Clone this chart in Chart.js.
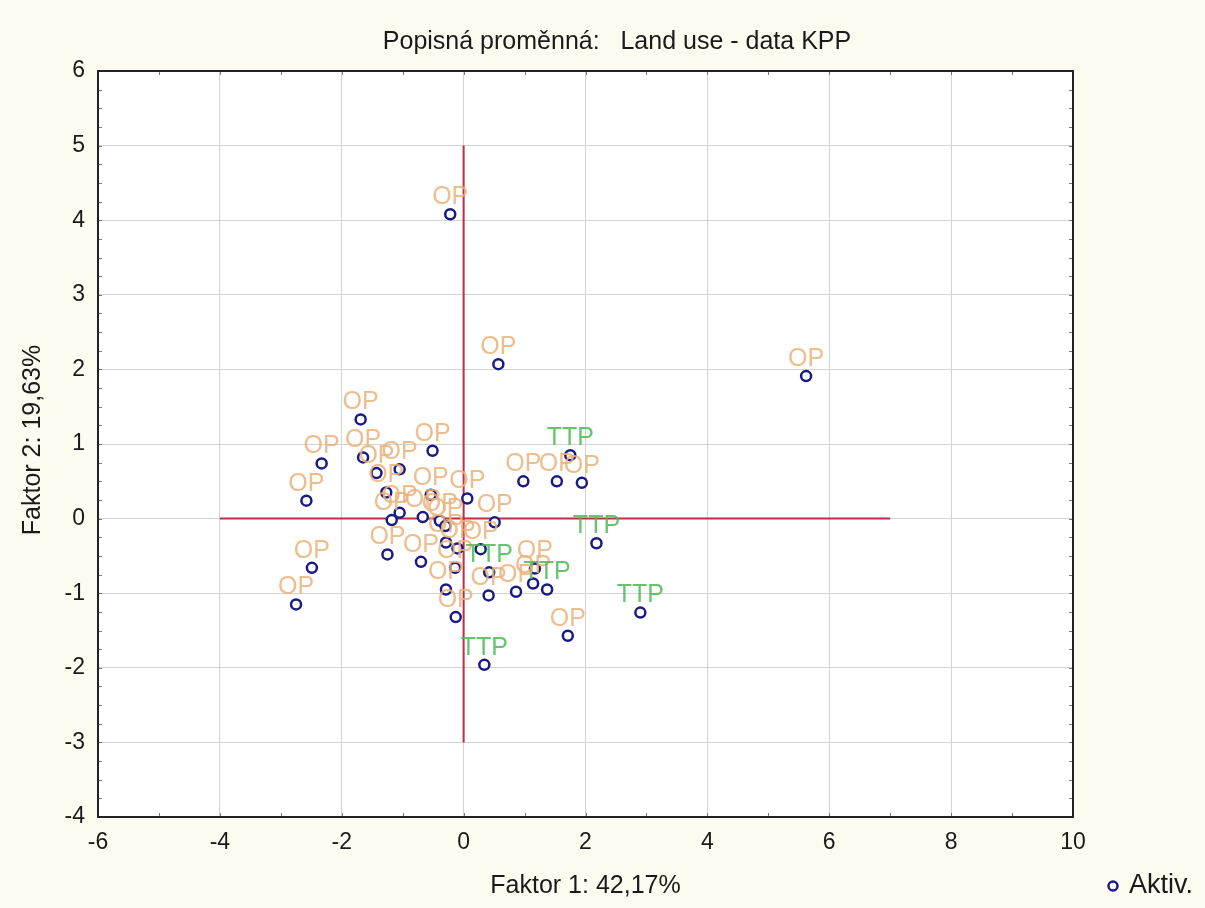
<!DOCTYPE html>
<html>
<head>
<meta charset="utf-8">
<script src="https://cdn.jsdelivr.net/npm/chart.js@4.4.0/dist/chart.umd.min.js"></script>
<style>
  html, body { margin: 0; padding: 0; background: #fdfaf0; }
</style>
</head>
<body>
<canvas id="graf" width="1205" height="908"></canvas>
<script>
// Skóre objektů na 1. a 2. faktoru
const faktor1 = [-0.22, 0.57, 5.62, -1.69, -2.33, -1.65, -0.51, -1.43, -1.05, -2.58,
                 -1.27, -0.54, 0.06, -1.05, -1.18, -0.67, -0.39, -0.30, 0.51, 0.98,
                 1.53, 1.94, 1.75, 2.18, -0.29, -0.10, 0.28, -1.25, -0.70, -0.14,
                 0.42, 1.17, 1.14, 1.37, 0.86, 0.41, -0.29, -0.13, 0.34, 1.71,
                 2.90, -2.49, -2.75];
const faktor2 = [4.08, 2.07, 1.91, 1.33, 0.74, 0.82, 0.91, 0.61, 0.66, 0.24,
                 0.35, 0.32, 0.27, 0.08, -0.02, 0.02, -0.03, -0.10, -0.05, 0.50,
                 0.50, 0.48, 0.85, -0.33, -0.32, -0.40, -0.41, -0.48, -0.58, -0.66,
                 -0.72, -0.67, -0.87, -0.95, -0.98, -1.03, -0.95, -1.32, -1.96, -1.57,
                 -1.26, -0.66, -1.15];
// Popisná proměnná (land use)
const landUse = ['OP', 'OP', 'OP', 'OP', 'OP', 'OP', 'OP', 'OP', 'OP', 'OP',
                 'OP', 'OP', 'OP', 'OP', 'OP', 'OP', 'OP', 'OP', 'OP', 'OP',
                 'OP', 'OP', 'TTP', 'TTP', 'OP', 'OP', 'OP', 'OP', 'OP', 'OP',
                 'TTP', 'OP', 'OP', 'TTP', 'OP', 'OP', 'OP', 'OP', 'TTP', 'OP',
                 'TTP', 'OP', 'OP'];
// Červené osy
const osaH = [-4, 7];   // vodorovná čára y = 0
const osaV = [-3, 5];   // svislá čára x = 0
// Rozsah os
const xTicks = [-6, -4, -2, 0, 2, 4, 6, 8, 10];
const yTicks = [-4, -3, -2, -1, 0, 1, 2, 3, 4, 5, 6];

const barvy = { OP: '#eab27a', TTP: '#4db856' };
const PISMO = 'Liberation Sans, Arial, sans-serif';

const body = faktor1.map((x, i) => ({ x: x, y: faktor2[i] }));

const dekorace = {
  id: 'dekorace',
  beforeDraw(chart) {
    const ctx = chart.ctx, a = chart.chartArea;
    ctx.save();
    ctx.fillStyle = '#fdfaf0';
    ctx.fillRect(0, 0, chart.width, chart.height);
    ctx.fillStyle = '#ffffff';
    ctx.fillRect(a.left, a.top, a.right - a.left, a.bottom - a.top);
    ctx.restore();
  },
  afterDatasetsDraw(chart) {
    // popisky bodů
    const ctx = chart.ctx;
    const meta = chart.getDatasetMeta(2);
    ctx.save();
    ctx.font = '25px ' + PISMO;
    ctx.textAlign = 'center';
    ctx.textBaseline = 'middle';
    ctx.globalAlpha = 0.85;
    meta.data.forEach((pt, i) => {
      ctx.fillStyle = barvy[landUse[i]];
      ctx.fillText(landUse[i], pt.x, pt.y - 17);
    });
    ctx.restore();
  },
  afterDraw(chart) {
    const ctx = chart.ctx, a = chart.chartArea;
    const sx = chart.scales.x, sy = chart.scales.y;
    ctx.save();
    // drobné značky uvnitř rámu
    ctx.strokeStyle = '#777';
    ctx.lineWidth = 1;
    ctx.beginPath();
    for (let v = xTicks[0]; v <= xTicks[xTicks.length - 1]; v += 1) {
      const px = Math.round(sx.getPixelForValue(v)) + 0.5;
      ctx.moveTo(px, a.bottom); ctx.lineTo(px, a.bottom - 4);
      ctx.moveTo(px, a.top); ctx.lineTo(px, a.top + 4);
    }
    for (let v = yTicks[0]; v <= yTicks[yTicks.length - 1]; v += 0.25) {
      const py = Math.round(sy.getPixelForValue(v)) + 0.5;
      ctx.moveTo(a.left, py); ctx.lineTo(a.left + 4, py);
      ctx.moveTo(a.right, py); ctx.lineTo(a.right - 4, py);
    }
    ctx.stroke();
    // rám
    ctx.strokeStyle = '#222';
    ctx.lineWidth = 2;
    ctx.strokeRect(a.left, a.top, a.right - a.left, a.bottom - a.top);

    // nadpis a názvy os
    ctx.fillStyle = '#1a1a1a';
    ctx.font = '25px ' + PISMO;
    ctx.textAlign = 'center';
    ctx.textBaseline = 'middle';
    ctx.fillText('Popisná proměnná:   Land use - data KPP', 617, 42);
    ctx.fillText('Faktor 1: 42,17%', (a.left + a.right) / 2, 886);
    ctx.save();
    ctx.translate(33, 440);
    ctx.rotate(-Math.PI / 2);
    ctx.fillText('Faktor 2: 19,63%', 0, 0);
    ctx.restore();

    // legenda
    ctx.strokeStyle = '#1c1c8a';
    ctx.lineWidth = 2.5;
    ctx.fillStyle = '#fff';
    ctx.beginPath();
    ctx.arc(1113, 886, 4.5, 0, Math.PI * 2);
    ctx.fill();
    ctx.stroke();
    ctx.fillStyle = '#1a1a1a';
    ctx.font = '27px ' + PISMO;
    ctx.textAlign = 'left';
    ctx.fillText('Aktiv.', 1129, 886);
    ctx.restore();
  }
};

new Chart(document.getElementById('graf'), {
  type: 'scatter',
  data: {
    datasets: [
      {
        label: 'osaH',
        data: osaH.map(x => ({ x: x, y: 0 })),
        showLine: true,
        borderColor: '#bd2c46',
        borderWidth: 2,
        pointRadius: 0,
        order: 3
      },
      {
        label: 'osaV',
        data: osaV.map(y => ({ x: 0, y: y })),
        showLine: true,
        borderColor: '#bd2c46',
        borderWidth: 2,
        pointRadius: 0,
        order: 2
      },
      {
        label: 'Aktiv.',
        data: body,
        pointRadius: 5,
        pointBorderWidth: 2.5,
        borderColor: '#1a1a85',
        backgroundColor: '#ffffff',
        order: 1
      }
    ]
  },
  options: {
    responsive: false,
    animation: false,
    devicePixelRatio: 1,
    layout: { padding: { top: 71, right: 132, left: 0, bottom: 0 } },
    plugins: {
      legend: { display: false },
      tooltip: { enabled: false }
    },
    scales: {
      x: {
        type: 'linear',
        min: xTicks[0],
        max: xTicks[xTicks.length - 1],
        afterBuildTicks: s => { s.ticks = xTicks.map(v => ({ value: v })); },
        afterFit: s => { s.height = 91; },
        ticks: {
          font: { size: 23, family: PISMO },
          color: '#1a1a1a',
          padding: 12,
          maxRotation: 0
        },
        grid: { color: '#d3d3d3', lineWidth: 1, drawTicks: false },
        border: { display: false }
      },
      y: {
        type: 'linear',
        min: yTicks[0],
        max: yTicks[yTicks.length - 1],
        afterBuildTicks: s => { s.ticks = yTicks.map(v => ({ value: v })); },
        afterFit: s => { s.width = 98; },
        ticks: {
          font: { size: 23, family: PISMO },
          color: '#1a1a1a',
          padding: 13
        },
        grid: { color: '#d3d3d3', lineWidth: 1, drawTicks: false },
        border: { display: false }
      }
    }
  },
  plugins: [dekorace]
});
</script>
</body>
</html>
